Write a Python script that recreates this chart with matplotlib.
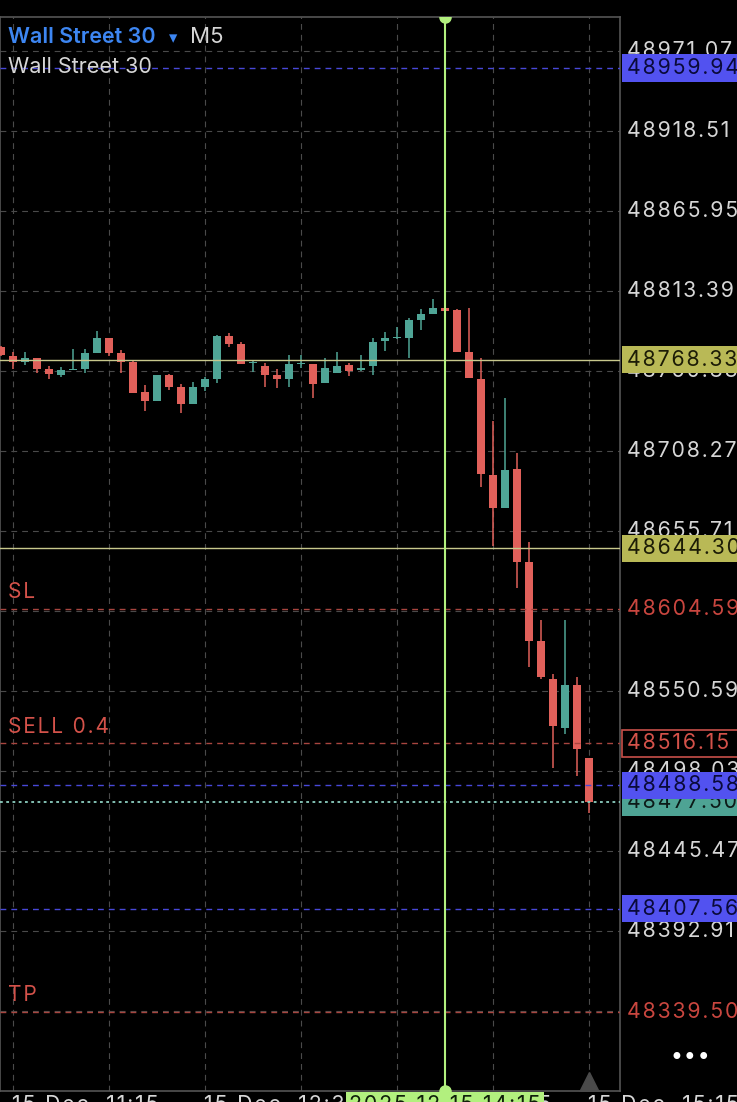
import matplotlib
matplotlib.use("Agg")
import matplotlib.pyplot as plt
from matplotlib.patches import Rectangle
import matplotlib.transforms as mtransforms

plt.rcParams['font.family'] = ['Inter', 'DejaVu Sans']
plt.rcParams['lines.scale_dashes'] = False

# M5 candles, 15 Dec 11:10 .. 15:15
opens = [48776.8, 48770.7, 48766.9, 48769.2, 48762.1, 48758.2, 48761.3, 48762.1, 48772.8, 48782.3,
         48772.8, 48766.7, 48747.0, 48741.1, 48758.2, 48750.1, 48739.1, 48750.5, 48755.6, 48783.8,
         48778.6, 48765.8, 48764.1, 48758.2, 48755.6, 48765.3, 48765.4, 48753.1, 48759.3, 48764.8,
         48761.5, 48764.1, 48780.7, 48782.3, 48782.7, 48794.3, 48798.3, 48802.0, 48800.9, 48773.5,
         48755.6, 48692.5, 48671.0, 48696.4, 48635.5, 48583.6, 48558.5, 48526.5, 48554.5, 48506.4]
highs = [48777.5, 48773.1, 48773.3, 48769.2, 48764.1, 48763.3, 48775.1, 48775.1, 48787.3, 48782.3,
         48774.6, 48768.0, 48751.6, 48758.2, 48758.9, 48752.1, 48753.8, 48757.1, 48784.5, 48786.0,
         48780.1, 48768.0, 48766.3, 48761.9, 48771.3, 48771.3, 48765.4, 48769.6, 48773.1, 48765.9,
         48771.3, 48782.3, 48786.2, 48789.5, 48795.8, 48801.6, 48807.9, 48802.2, 48801.5, 48802.0,
         48769.2, 48728.0, 48742.9, 48706.7, 48648.7, 48597.2, 48561.7, 48597.2, 48560.0, 48506.4]
lows = [48770.5, 48762.1, 48765.0, 48759.3, 48755.4, 48756.7, 48761.3, 48759.7, 48772.8, 48770.9,
        48759.7, 48746.6, 48734.7, 48741.1, 48748.3, 48733.4, 48739.1, 48747.9, 48752.7, 48776.4,
        48765.4, 48760.4, 48750.5, 48749.5, 48750.5, 48762.6, 48743.3, 48753.1, 48759.3, 48757.7,
        48761.0, 48758.2, 48774.0, 48781.6, 48769.2, 48787.8, 48798.3, 48800.4, 48773.5, 48756.4,
        48684.8, 48645.8, 48671.0, 48618.0, 48566.1, 48558.3, 48499.8, 48522.1, 48494.7, 48470.2]
closes = [48771.3, 48766.9, 48769.2, 48762.1, 48758.7, 48761.5, 48762.1, 48772.8, 48782.3, 48772.8,
          48766.9, 48746.6, 48741.1, 48758.2, 48750.5, 48739.1, 48750.1, 48755.6, 48783.8, 48778.6,
          48765.4, 48766.0, 48758.2, 48755.6, 48765.4, 48765.5, 48752.3, 48762.6, 48764.1, 48761.0,
          48762.6, 48780.1, 48782.3, 48782.7, 48794.3, 48798.3, 48802.4, 48800.4, 48773.5, 48756.4,
          48693.0, 48671.0, 48695.8, 48635.5, 48583.6, 48560.0, 48527.8, 48554.5, 48512.3, 48477.5]

price_ticks = [48971.07, 48918.51, 48865.95, 48813.39, 48760.83, 48708.27, 48655.71,
               48603.15, 48550.59, 48498.03, 48445.47, 48392.91, 48340.35]
hidden_ticks = [48603.15, 48340.35]

time_tick_idx = [1, 17, 33, 49]
time_labels = ["15 Dec  11:15", "15 Dec  12:35", "15 Dec  13:55", "15 Dec  15:15"]
grid_idx = [1, 9, 17, 25, 33, 41, 49]
cross_idx = 37
cross_label = "2025.12.15 14:15"

blue_levels = [48959.94, 48488.58, 48407.56]
yellow_levels = [48768.33, 48644.30]
sl_price, sell_price, tp_price = 48604.59, 48516.15, 48339.50
last_price = 48477.50

BG = "black"
UP = "#4fa596"
DN = "#e0605a"
GRID = "#4a4a4a"
RED = "#d4524a"
BLUE = "#5252f0"
YEL = "#b9b956"
GREEN = "#b2f07e"
TXT = "#d6d6d6"
FS = 15.3


def track(s):
    # wide letter spacing like the app's font
    return "\u200a".join(s)


W, H = 737, 1102
fig = plt.figure(figsize=(W / 100, H / 100), dpi=100, facecolor=BG)
ax_l, ax_r, ax_t, ax_b = 0, 620, 17, 1091
ax = fig.add_axes([ax_l / W, (H - ax_b) / H, (ax_r - ax_l) / W, (ax_b - ax_t) / H])
ax.set_facecolor(BG)
ax.set_xlim(-0.08, (ax_r - ax_l) / 12 - 0.08)
ax.set_ylim(48287.8, 48993.4)
ax.set_xticks([])
ax.set_yticks([])
for s in ax.spines.values():
    s.set_color("#555555")
    s.set_linewidth(1.2)

dash = (0, (4.2, 3.6))
for p in price_ticks:
    ax.axhline(p, color=GRID, lw=0.8, ls=dash, zorder=1)
for i in grid_idx:
    ax.axvline(i, color=GRID, lw=0.8, ls=dash, zorder=1)

# candles
xs = list(range(len(opens)))
for x, o, h, l, c in zip(xs, opens, highs, lows, closes):
    col = UP if c >= o else DN
    ax.vlines(x, l, h, color=col, lw=1.1, zorder=3)
    bot = min(o, c)
    ht = max(abs(c - o), 1.0)
    ax.bar(x, ht, bottom=bot, width=0.7, color=col, lw=0, zorder=4)

# level lines
for p in blue_levels:
    ax.axhline(p, color="#4848d8", lw=1.0, ls=dash, zorder=5)
for p in yellow_levels:
    ax.axhline(p, color="#c8c88c", lw=1.0, zorder=5)
for p in [sl_price, sell_price, tp_price]:
    ax.axhline(p, color="#a8453f", lw=1.0, ls=dash, zorder=5)
ax.axhline(last_price, color="#8ccfc0", lw=1.3, ls=(0, (2, 2.5)), zorder=5)

tr = mtransforms.blended_transform_factory(ax.transAxes, ax.transData)
for p, lab in [(sl_price, "SL"), (sell_price, "SELL 0.4"), (tp_price, "TP")]:
    ax.text(0.013, p + 4.5, track(lab), color=RED, fontsize=15, va="bottom", ha="left",
            transform=tr)

# crosshair
ax.axvline(cross_idx, color=GREEN, lw=1.5, zorder=8)
ax.plot([cross_idx], [48993.4], marker="o", ms=8, color=GREEN, zorder=9, clip_on=True)
ax.plot([cross_idx], [48287.8], marker="o", ms=8, color=GREEN, zorder=9, clip_on=True)
ax.plot([xs[-1]], [48293.5], marker="^", ms=14, color="#4a4a4a", lw=0, zorder=9, clip_on=True)

# right price scale
lx = 1.0105
for p in price_ticks:
    if p in hidden_ticks:
        continue
    ax.text(lx, p, track(f"{p:.2f}"), color=TXT, fontsize=FS, va="center", ha="left",
            transform=tr, clip_on=False, zorder=10)

half = 9.0


def price_box(p, face, txtcol, edge=None, z=11):
    r = Rectangle((1.003, p - half), 0.2, 2 * half, transform=tr, clip_on=False,
                  facecolor=face if edge is None else BG,
                  edgecolor=edge if edge else "none", lw=1.2, zorder=z)
    ax.add_patch(r)
    ax.text(lx, p, track(f"{p:.2f}"), color=txtcol, fontsize=FS, va="center", ha="left",
            transform=tr, clip_on=False, zorder=z + 0.5)


price_box(last_price, "#4ea394", "#0c1a18", z=11)
for p in blue_levels:
    price_box(p, BLUE, "#0a0a3a", z=12)
for p in yellow_levels:
    price_box(p, YEL, "#1c1c06", z=12)
price_box(sell_price, BG, RED, edge="#c8504a", z=12)
for p in [sl_price, tp_price]:
    ax.text(lx, p, track(f"{p:.2f}"), color="#c9463f", fontsize=FS, va="center", ha="left",
            transform=tr, clip_on=False, zorder=12)

# time axis (bottom row is cut by the screenshot edge)
ttr = mtransforms.blended_transform_factory(ax.transData, fig.transFigure)
ty = 1 - 1095 / H
for i, lab in zip(time_tick_idx, time_labels):
    ax.text(i - 0.05, ty, track(lab), color=TXT, fontsize=FS, va="top", ha="left",
            transform=ttr, clip_on=False, zorder=10)
ax.text(cross_idx, ty, track(cross_label), color="#10200a", fontsize=FS, va="top",
        ha="center", transform=ttr, clip_on=False, zorder=13,
        bbox=dict(boxstyle="square,pad=0.15", facecolor=GREEN, edgecolor="none"))

# header
fig.text(8 / W, 1 - 37 / H, "Wall Street 30", color="#3d86f2", fontsize=15.5,
         weight="semibold", va="center", ha="left")
fig.text(169 / W, 1 - 38 / H, "\u25BE", color="#3d86f2", fontsize=12, va="center", ha="left",
         family=["DejaVu Sans"])
fig.text(190 / W, 1 - 37 / H, "M5", color=TXT, fontsize=16, va="center", ha="left")
fig.text(8 / W, 1 - 67 / H, "Wall Street 30", color=TXT, fontsize=15.5, va="center", ha="left")
fig.text(690 / W, 1 - 1058 / H, "\u2022\u2022\u2022", color="white", fontsize=17,
         va="center", ha="center", family=["DejaVu Sans"])

fig.savefig("out.png", dpi=100, facecolor=BG)
